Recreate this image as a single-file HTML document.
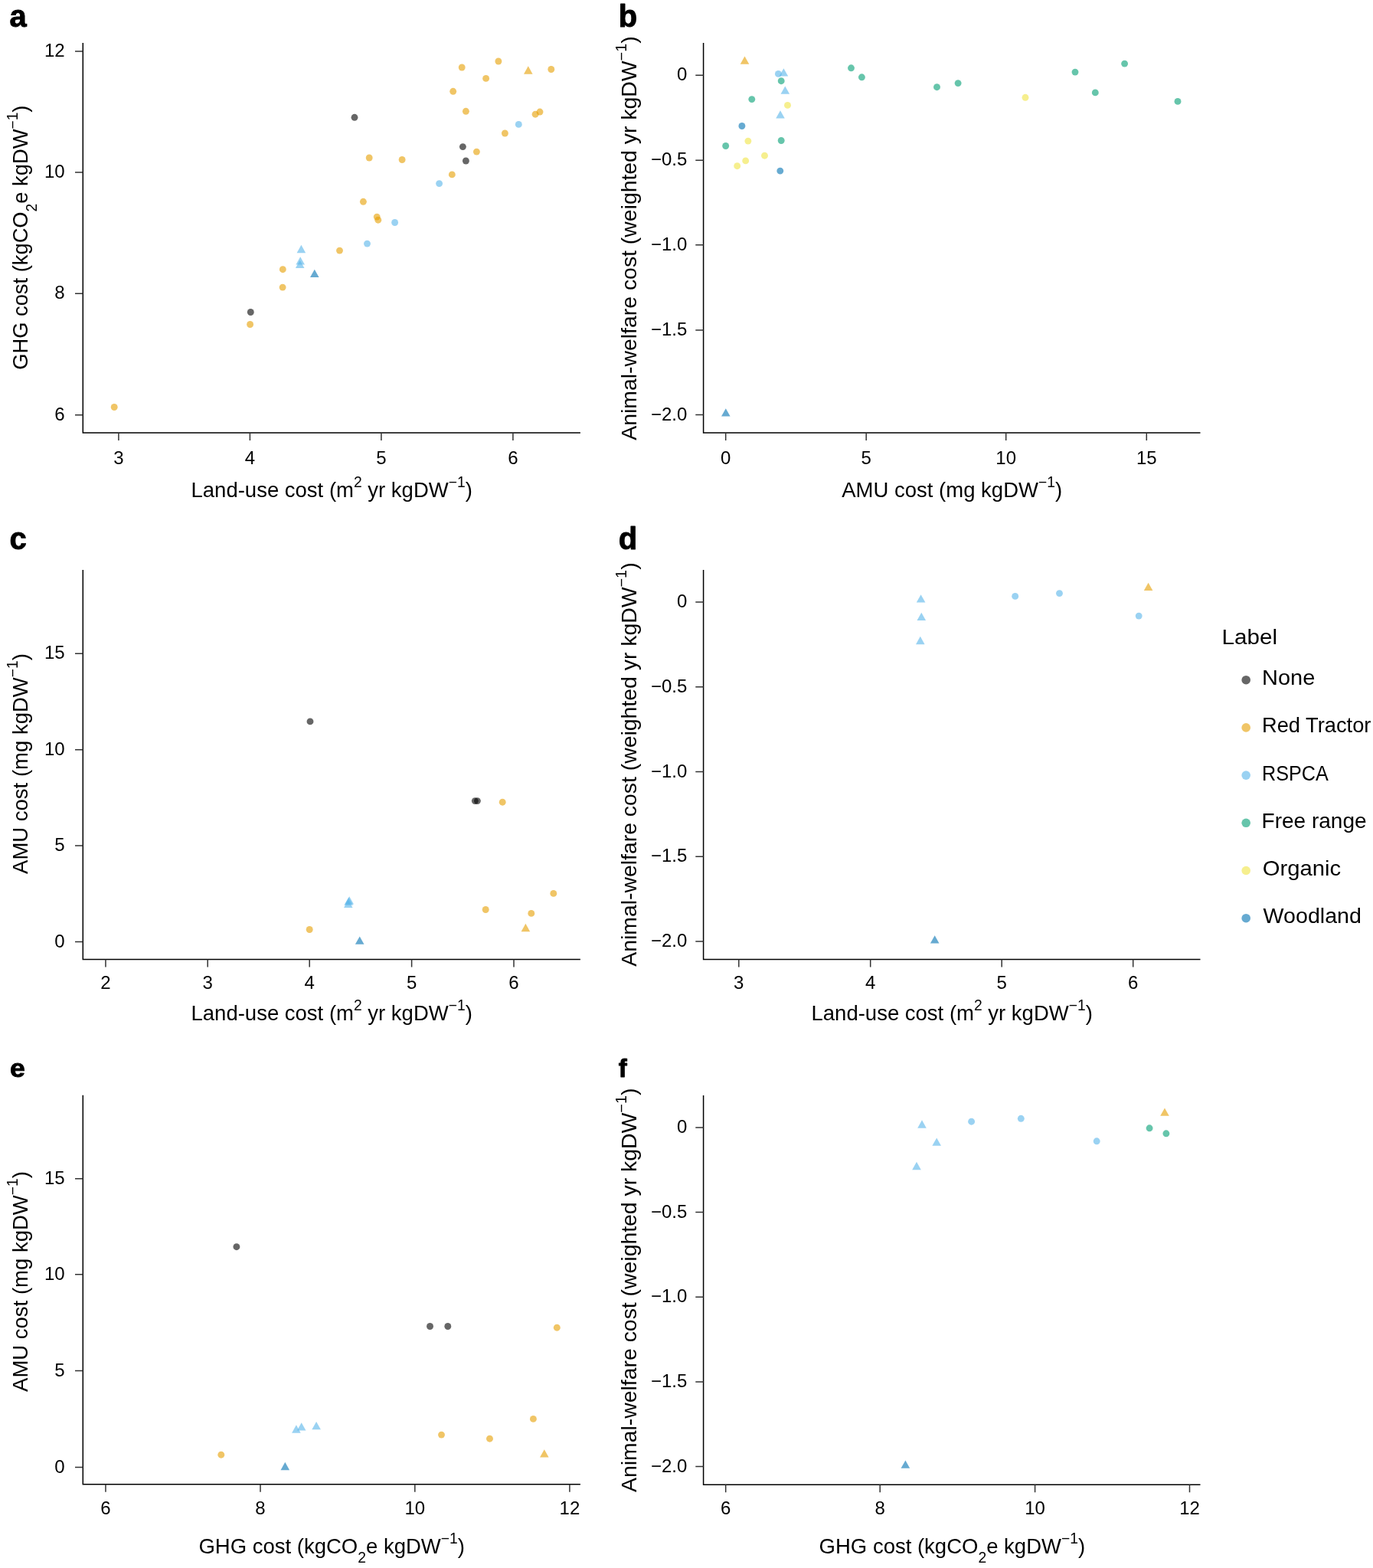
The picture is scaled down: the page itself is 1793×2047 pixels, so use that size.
<!DOCTYPE html><html><head><meta charset="utf-8"><title>Figure</title><style>html,body{margin:0;padding:0;background:#fff;}svg{display:block;}text{font-family:"Liberation Sans", Arial, Helvetica, sans-serif;fill:#000;}</style></head><body>
<svg width="1793" height="2047" viewBox="0 0 1793 2047">
<rect width="1793" height="2047" fill="#fff"/>
<path d="M108.3 56V564.9H757.9" fill="none" stroke="#000" stroke-width="1.5"/>
<path d="M154.9 564.9V574.9M326.4 564.9V574.9M497.9 564.9V574.9M669.9 564.9V574.9M98 67.1H108.3M98 225H108.3M98 383.3H108.3M98 541.7H108.3" fill="none" stroke="#333" stroke-width="1.5"/>
<text x="154.9" y="605.6" font-size="24" text-anchor="middle">3</text>
<text x="326.4" y="605.6" font-size="24" text-anchor="middle">4</text>
<text x="497.9" y="605.6" font-size="24" text-anchor="middle">5</text>
<text x="669.9" y="605.6" font-size="24" text-anchor="middle">6</text>
<text x="84.7" y="74.2" font-size="24" text-anchor="end">12</text>
<text x="84.7" y="232.1" font-size="24" text-anchor="end">10</text>
<text x="84.7" y="390.4" font-size="24" text-anchor="end">8</text>
<text x="84.7" y="548.8" font-size="24" text-anchor="end">6</text>
<path d="M918.6 56V564.9H1567.5" fill="none" stroke="#000" stroke-width="1.5"/>
<path d="M947.7 564.9V574.9M1131.2 564.9V574.9M1313.7 564.9V574.9M1497.3 564.9V574.9M908.3 98.3H918.6M908.3 209.3H918.6M908.3 319.8H918.6M908.3 430.9H918.6M908.3 541.5H918.6" fill="none" stroke="#333" stroke-width="1.5"/>
<text x="947.7" y="605.6" font-size="24" text-anchor="middle">0</text>
<text x="1131.2" y="605.6" font-size="24" text-anchor="middle">5</text>
<text x="1313.7" y="605.6" font-size="24" text-anchor="middle">10</text>
<text x="1497.3" y="605.6" font-size="24" text-anchor="middle">15</text>
<text x="897.3" y="105.4" font-size="24" text-anchor="end">0</text>
<text x="897.3" y="216.4" font-size="24" text-anchor="end">−0.5</text>
<text x="897.3" y="326.9" font-size="24" text-anchor="end">−1.0</text>
<text x="897.3" y="438" font-size="24" text-anchor="end">−1.5</text>
<text x="897.3" y="548.6" font-size="24" text-anchor="end">−2.0</text>
<path d="M108.3 744V1252.4H757.9" fill="none" stroke="#000" stroke-width="1.5"/>
<path d="M137.95 1252.4V1262.4M271.2 1252.4V1262.4M404.2 1252.4V1262.4M537.6 1252.4V1262.4M671 1252.4V1262.4M98 1229.6H108.3M98 1104H108.3M98 978.8H108.3M98 853.3H108.3" fill="none" stroke="#333" stroke-width="1.5"/>
<text x="137.95" y="1290.85" font-size="24" text-anchor="middle">2</text>
<text x="271.2" y="1290.85" font-size="24" text-anchor="middle">3</text>
<text x="404.2" y="1290.85" font-size="24" text-anchor="middle">4</text>
<text x="537.6" y="1290.85" font-size="24" text-anchor="middle">5</text>
<text x="671" y="1290.85" font-size="24" text-anchor="middle">6</text>
<text x="84.7" y="1236.7" font-size="24" text-anchor="end">0</text>
<text x="84.7" y="1111.1" font-size="24" text-anchor="end">5</text>
<text x="84.7" y="985.9" font-size="24" text-anchor="end">10</text>
<text x="84.7" y="860.4" font-size="24" text-anchor="end">15</text>
<path d="M918.6 743.9V1252.4H1567.5" fill="none" stroke="#000" stroke-width="1.5"/>
<path d="M964.8 1252.4V1262.4M1136.7 1252.4V1262.4M1308.2 1252.4V1262.4M1479.7 1252.4V1262.4M908.3 785.9H918.6M908.3 896.7H918.6M908.3 1007.5H918.6M908.3 1118.3H918.6M908.3 1229.1H918.6" fill="none" stroke="#333" stroke-width="1.5"/>
<text x="964.8" y="1290.85" font-size="24" text-anchor="middle">3</text>
<text x="1136.7" y="1290.85" font-size="24" text-anchor="middle">4</text>
<text x="1308.2" y="1290.85" font-size="24" text-anchor="middle">5</text>
<text x="1479.7" y="1290.85" font-size="24" text-anchor="middle">6</text>
<text x="897.3" y="793" font-size="24" text-anchor="end">0</text>
<text x="897.3" y="903.8" font-size="24" text-anchor="end">−0.5</text>
<text x="897.3" y="1014.6" font-size="24" text-anchor="end">−1.0</text>
<text x="897.3" y="1125.4" font-size="24" text-anchor="end">−1.5</text>
<text x="897.3" y="1236.2" font-size="24" text-anchor="end">−2.0</text>
<path d="M108.3 1429.8V1937.8H757.9" fill="none" stroke="#000" stroke-width="1.5"/>
<path d="M137.95 1937.8V1947.8M340 1937.8V1947.8M541.8 1937.8V1947.8M743.9 1937.8V1947.8M98 1915.4H108.3M98 1789.6H108.3M98 1663.8H108.3M98 1538.8H108.3" fill="none" stroke="#333" stroke-width="1.5"/>
<text x="137.95" y="1976.7" font-size="24" text-anchor="middle">6</text>
<text x="340" y="1976.7" font-size="24" text-anchor="middle">8</text>
<text x="541.8" y="1976.7" font-size="24" text-anchor="middle">10</text>
<text x="743.9" y="1976.7" font-size="24" text-anchor="middle">12</text>
<text x="84.7" y="1922.5" font-size="24" text-anchor="end">0</text>
<text x="84.7" y="1796.7" font-size="24" text-anchor="end">5</text>
<text x="84.7" y="1670.9" font-size="24" text-anchor="end">10</text>
<text x="84.7" y="1545.9" font-size="24" text-anchor="end">15</text>
<path d="M918.6 1430V1938.2H1567.5" fill="none" stroke="#000" stroke-width="1.5"/>
<path d="M947.7 1938.2V1948.2M1149.2 1938.2V1948.2M1351.6 1938.2V1948.2M1553.5 1938.2V1948.2M908.3 1471.9H918.6M908.3 1582.5H918.6M908.3 1693.2H918.6M908.3 1803.9H918.6M908.3 1914.6H918.6" fill="none" stroke="#333" stroke-width="1.5"/>
<text x="947.7" y="1976.8" font-size="24" text-anchor="middle">6</text>
<text x="1149.2" y="1976.8" font-size="24" text-anchor="middle">8</text>
<text x="1351.6" y="1976.8" font-size="24" text-anchor="middle">10</text>
<text x="1553.5" y="1976.8" font-size="24" text-anchor="middle">12</text>
<text x="897.3" y="1479" font-size="24" text-anchor="end">0</text>
<text x="897.3" y="1589.6" font-size="24" text-anchor="end">−0.5</text>
<text x="897.3" y="1700.3" font-size="24" text-anchor="end">−1.0</text>
<text x="897.3" y="1811" font-size="24" text-anchor="end">−1.5</text>
<text x="897.3" y="1921.7" font-size="24" text-anchor="end">−2.0</text>
<circle cx="463" cy="153.3" r="4.45" fill="#000000" fill-opacity="0.6"/>
<circle cx="604.4" cy="191.6" r="4.45" fill="#000000" fill-opacity="0.6"/>
<circle cx="608.4" cy="210" r="4.45" fill="#000000" fill-opacity="0.6"/>
<circle cx="327.3" cy="407.5" r="4.45" fill="#000000" fill-opacity="0.6"/>
<circle cx="603.2" cy="88" r="4.45" fill="#E69F00" fill-opacity="0.6"/>
<circle cx="650.9" cy="80" r="4.45" fill="#E69F00" fill-opacity="0.6"/>
<circle cx="719.8" cy="90.5" r="4.45" fill="#E69F00" fill-opacity="0.6"/>
<circle cx="634.6" cy="102.4" r="4.45" fill="#E69F00" fill-opacity="0.6"/>
<circle cx="591.7" cy="119.3" r="4.45" fill="#E69F00" fill-opacity="0.6"/>
<circle cx="608.4" cy="145.3" r="4.45" fill="#E69F00" fill-opacity="0.6"/>
<circle cx="699.1" cy="149.2" r="4.45" fill="#E69F00" fill-opacity="0.6"/>
<circle cx="705" cy="146.05" r="4.45" fill="#E69F00" fill-opacity="0.6"/>
<circle cx="659.4" cy="174" r="4.45" fill="#E69F00" fill-opacity="0.6"/>
<circle cx="622.4" cy="198.1" r="4.45" fill="#E69F00" fill-opacity="0.6"/>
<circle cx="482.2" cy="206" r="4.45" fill="#E69F00" fill-opacity="0.6"/>
<circle cx="525.1" cy="208.5" r="4.45" fill="#E69F00" fill-opacity="0.6"/>
<circle cx="590.3" cy="227.9" r="4.45" fill="#E69F00" fill-opacity="0.6"/>
<circle cx="474.4" cy="263.3" r="4.45" fill="#E69F00" fill-opacity="0.6"/>
<circle cx="492.2" cy="283.1" r="4.45" fill="#E69F00" fill-opacity="0.6"/>
<circle cx="493.8" cy="287.2" r="4.45" fill="#E69F00" fill-opacity="0.6"/>
<circle cx="443.5" cy="327.1" r="4.45" fill="#E69F00" fill-opacity="0.6"/>
<circle cx="369.3" cy="351.7" r="4.45" fill="#E69F00" fill-opacity="0.6"/>
<circle cx="369.1" cy="375.1" r="4.45" fill="#E69F00" fill-opacity="0.6"/>
<circle cx="326.6" cy="423.5" r="4.45" fill="#E69F00" fill-opacity="0.6"/>
<circle cx="149.2" cy="531.5" r="4.45" fill="#E69F00" fill-opacity="0.6"/>
<path d="M689.8 86.35L695.6 96.65L684 96.65Z" fill="#E69F00" fill-opacity="0.6"/>
<circle cx="677.3" cy="162.4" r="4.45" fill="#56B4E9" fill-opacity="0.6"/>
<circle cx="573.6" cy="239.6" r="4.45" fill="#56B4E9" fill-opacity="0.6"/>
<circle cx="515.6" cy="290.5" r="4.45" fill="#56B4E9" fill-opacity="0.6"/>
<circle cx="479.5" cy="318.1" r="4.45" fill="#56B4E9" fill-opacity="0.6"/>
<path d="M393.4 319.85L399.2 330.15L387.6 330.15Z" fill="#56B4E9" fill-opacity="0.6"/>
<path d="M392.2 335.15L398 345.45L386.4 345.45Z" fill="#56B4E9" fill-opacity="0.6"/>
<path d="M391.7 339.75L397.5 350.05L385.9 350.05Z" fill="#56B4E9" fill-opacity="0.6"/>
<path d="M410.8 351.75L416.6 362.05L405 362.05Z" fill="#0072B2" fill-opacity="0.6"/>
<path d="M972.5 73.55L978.3 83.85L966.7 83.85Z" fill="#E69F00" fill-opacity="0.6"/>
<circle cx="1016.4" cy="96.4" r="4.45" fill="#56B4E9" fill-opacity="0.6"/>
<path d="M1023.4 89.15L1029.2 99.45L1017.6 99.45Z" fill="#56B4E9" fill-opacity="0.6"/>
<path d="M1025.3 112.45L1031.1 122.75L1019.5 122.75Z" fill="#56B4E9" fill-opacity="0.6"/>
<path d="M1019 144.15L1024.8 154.45L1013.2 154.45Z" fill="#56B4E9" fill-opacity="0.6"/>
<circle cx="1020.2" cy="105.7" r="4.45" fill="#009E73" fill-opacity="0.6"/>
<circle cx="981.8" cy="129.6" r="4.45" fill="#009E73" fill-opacity="0.6"/>
<circle cx="1020.2" cy="183.5" r="4.45" fill="#009E73" fill-opacity="0.6"/>
<circle cx="947.7" cy="190.5" r="4.45" fill="#009E73" fill-opacity="0.6"/>
<circle cx="1111.5" cy="88.8" r="4.45" fill="#009E73" fill-opacity="0.6"/>
<circle cx="1125.4" cy="100.8" r="4.45" fill="#009E73" fill-opacity="0.6"/>
<circle cx="1223.5" cy="113.7" r="4.45" fill="#009E73" fill-opacity="0.6"/>
<circle cx="1251.1" cy="108.6" r="4.45" fill="#009E73" fill-opacity="0.6"/>
<circle cx="1404" cy="94.1" r="4.45" fill="#009E73" fill-opacity="0.6"/>
<circle cx="1430.3" cy="120.9" r="4.45" fill="#009E73" fill-opacity="0.6"/>
<circle cx="1468.6" cy="83.1" r="4.45" fill="#009E73" fill-opacity="0.6"/>
<circle cx="1538" cy="132.4" r="4.45" fill="#009E73" fill-opacity="0.6"/>
<circle cx="1028.5" cy="137.4" r="4.45" fill="#F0E442" fill-opacity="0.6"/>
<circle cx="976.9" cy="184.1" r="4.45" fill="#F0E442" fill-opacity="0.6"/>
<circle cx="998.5" cy="203.2" r="4.45" fill="#F0E442" fill-opacity="0.6"/>
<circle cx="973.7" cy="209.9" r="4.45" fill="#F0E442" fill-opacity="0.6"/>
<circle cx="962.7" cy="216.7" r="4.45" fill="#F0E442" fill-opacity="0.6"/>
<circle cx="1339" cy="127.3" r="4.45" fill="#F0E442" fill-opacity="0.6"/>
<circle cx="968.9" cy="164.5" r="4.45" fill="#0072B2" fill-opacity="0.6"/>
<circle cx="1018.8" cy="223.1" r="4.45" fill="#0072B2" fill-opacity="0.6"/>
<path d="M947.8 533.25L953.6 543.55L942 543.55Z" fill="#0072B2" fill-opacity="0.6"/>
<circle cx="405" cy="941.9" r="4.45" fill="#000000" fill-opacity="0.6"/>
<circle cx="620.3" cy="1045.6" r="4.45" fill="#000000" fill-opacity="0.6"/>
<circle cx="623.4" cy="1045.6" r="4.45" fill="#000000" fill-opacity="0.6"/>
<circle cx="656.2" cy="1047.2" r="4.45" fill="#E69F00" fill-opacity="0.6"/>
<circle cx="634.2" cy="1187.5" r="4.45" fill="#E69F00" fill-opacity="0.6"/>
<circle cx="693.8" cy="1192.4" r="4.45" fill="#E69F00" fill-opacity="0.6"/>
<circle cx="722.8" cy="1166.4" r="4.45" fill="#E69F00" fill-opacity="0.6"/>
<circle cx="404.2" cy="1213.5" r="4.45" fill="#E69F00" fill-opacity="0.6"/>
<path d="M686.4 1205.85L692.2 1216.15L680.6 1216.15Z" fill="#E69F00" fill-opacity="0.6"/>
<path d="M456.2 1170.25L462 1180.55L450.4 1180.55Z" fill="#56B4E9" fill-opacity="0.6"/>
<path d="M455.2 1171.55L461 1181.85L449.4 1181.85Z" fill="#56B4E9" fill-opacity="0.6"/>
<path d="M454.8 1174.75L460.6 1185.05L449 1185.05Z" fill="#56B4E9" fill-opacity="0.6"/>
<path d="M469.7 1222.55L475.5 1232.85L463.9 1232.85Z" fill="#0072B2" fill-opacity="0.6"/>
<path d="M1202.6 776.25L1208.4 786.55L1196.8 786.55Z" fill="#56B4E9" fill-opacity="0.6"/>
<path d="M1203.3 799.65L1209.1 809.95L1197.5 809.95Z" fill="#56B4E9" fill-opacity="0.6"/>
<path d="M1201.8 830.85L1207.6 841.15L1196 841.15Z" fill="#56B4E9" fill-opacity="0.6"/>
<circle cx="1325.7" cy="778.4" r="4.45" fill="#56B4E9" fill-opacity="0.6"/>
<circle cx="1383.5" cy="774.6" r="4.45" fill="#56B4E9" fill-opacity="0.6"/>
<circle cx="1487.2" cy="804.1" r="4.45" fill="#56B4E9" fill-opacity="0.6"/>
<path d="M1499.6 760.75L1505.4 771.05L1493.8 771.05Z" fill="#E69F00" fill-opacity="0.6"/>
<path d="M1220.7 1221.25L1226.5 1231.55L1214.9 1231.55Z" fill="#0072B2" fill-opacity="0.6"/>
<circle cx="308.9" cy="1627.7" r="4.45" fill="#000000" fill-opacity="0.6"/>
<circle cx="561.5" cy="1731.5" r="4.45" fill="#000000" fill-opacity="0.6"/>
<circle cx="584.8" cy="1731.5" r="4.45" fill="#000000" fill-opacity="0.6"/>
<circle cx="727.3" cy="1733.2" r="4.45" fill="#E69F00" fill-opacity="0.6"/>
<circle cx="696.4" cy="1852.4" r="4.45" fill="#E69F00" fill-opacity="0.6"/>
<circle cx="576.5" cy="1873.1" r="4.45" fill="#E69F00" fill-opacity="0.6"/>
<circle cx="639.5" cy="1878.2" r="4.45" fill="#E69F00" fill-opacity="0.6"/>
<circle cx="288.8" cy="1899.2" r="4.45" fill="#E69F00" fill-opacity="0.6"/>
<path d="M710.8 1892.15L716.6 1902.45L705 1902.45Z" fill="#E69F00" fill-opacity="0.6"/>
<path d="M386.9 1860.35L392.7 1870.65L381.1 1870.65Z" fill="#56B4E9" fill-opacity="0.6"/>
<path d="M393.7 1857.25L399.5 1867.55L387.9 1867.55Z" fill="#56B4E9" fill-opacity="0.6"/>
<path d="M413.1 1855.95L418.9 1866.25L407.3 1866.25Z" fill="#56B4E9" fill-opacity="0.6"/>
<path d="M372.3 1908.85L378.1 1919.15L366.5 1919.15Z" fill="#0072B2" fill-opacity="0.6"/>
<path d="M1204 1462.35L1209.8 1472.65L1198.2 1472.65Z" fill="#56B4E9" fill-opacity="0.6"/>
<path d="M1223.2 1485.45L1229 1495.75L1217.4 1495.75Z" fill="#56B4E9" fill-opacity="0.6"/>
<path d="M1197 1516.85L1202.8 1527.15L1191.2 1527.15Z" fill="#56B4E9" fill-opacity="0.6"/>
<circle cx="1268.6" cy="1464.2" r="4.45" fill="#56B4E9" fill-opacity="0.6"/>
<circle cx="1333.3" cy="1460.3" r="4.45" fill="#56B4E9" fill-opacity="0.6"/>
<circle cx="1432.2" cy="1489.8" r="4.45" fill="#56B4E9" fill-opacity="0.6"/>
<circle cx="1501.1" cy="1472.8" r="4.45" fill="#009E73" fill-opacity="0.6"/>
<circle cx="1522.9" cy="1479.8" r="4.45" fill="#009E73" fill-opacity="0.6"/>
<path d="M1521 1446.55L1526.8 1456.85L1515.2 1456.85Z" fill="#E69F00" fill-opacity="0.6"/>
<path d="M1182.4 1906.45L1188.2 1916.75L1176.6 1916.75Z" fill="#0072B2" fill-opacity="0.6"/>
<text transform="translate(12.6 34.6) scale(1 1)" font-size="40" font-weight="bold" stroke="#000" stroke-width="0.9" stroke-linejoin="round">a</text>
<text transform="translate(807.8 34.5) scale(1 1)" font-size="40" font-weight="bold" stroke="#000" stroke-width="0.9" stroke-linejoin="round">b</text>
<text transform="translate(12.6 716.6) scale(1 1)" font-size="40" font-weight="bold" stroke="#000" stroke-width="0.9" stroke-linejoin="round">c</text>
<text transform="translate(807.8 716.7) scale(1 1)" font-size="40" font-weight="bold" stroke="#000" stroke-width="0.9" stroke-linejoin="round">d</text>
<text transform="translate(12.9 1406.3) scale(1.08 1)" font-size="33" font-weight="bold" stroke="#000" stroke-width="0.9" stroke-linejoin="round">e</text>
<text transform="translate(807.8 1406.0) scale(1 1)" font-size="33" font-weight="bold" stroke="#000" stroke-width="0.9" stroke-linejoin="round">f</text>
<text transform="translate(433.2 648.9) scale(1.0 1)" font-size="27.5" text-anchor="middle">Land-use cost (m<tspan dy="-13.2" font-size="19.3">2</tspan><tspan dy="13.2"> yr kgDW</tspan><tspan dy="-13.2" font-size="19.3">−1</tspan><tspan dy="13.2">)</tspan></text>
<text transform="translate(1243.2 648.7) scale(1.0 1)" font-size="27.5" text-anchor="middle">AMU cost (mg kgDW<tspan dy="-13.2" font-size="19.3">−1</tspan><tspan dy="13.2">)</tspan></text>
<text transform="translate(433.2 1331.8) scale(1.0 1)" font-size="27.5" text-anchor="middle">Land-use cost (m<tspan dy="-13.2" font-size="19.3">2</tspan><tspan dy="13.2"> yr kgDW</tspan><tspan dy="-13.2" font-size="19.3">−1</tspan><tspan dy="13.2">)</tspan></text>
<text transform="translate(1243.2 1331.8) scale(1.0 1)" font-size="27.5" text-anchor="middle">Land-use cost (m<tspan dy="-13.2" font-size="19.3">2</tspan><tspan dy="13.2"> yr kgDW</tspan><tspan dy="-13.2" font-size="19.3">−1</tspan><tspan dy="13.2">)</tspan></text>
<text transform="translate(433.2 2027.8) scale(1.0 1)" font-size="27.5" text-anchor="middle">GHG cost (kgCO<tspan dy="11.8" font-size="19.3">2</tspan><tspan dy="-11.8">e kgDW</tspan><tspan dy="-13.2" font-size="19.3">−1</tspan><tspan dy="13.2">)</tspan></text>
<text transform="translate(1243.35 2027.8) scale(1.0 1)" font-size="27.5" text-anchor="middle">GHG cost (kgCO<tspan dy="11.8" font-size="19.3">2</tspan><tspan dy="-11.8">e kgDW</tspan><tspan dy="-13.2" font-size="19.3">−1</tspan><tspan dy="13.2">)</tspan></text>
<text transform="translate(36 310.2) rotate(-90) scale(0.994 1)" font-size="27.5" text-anchor="middle">GHG cost (kgCO<tspan dy="11.8" font-size="19.3">2</tspan><tspan dy="-11.8">e kgDW</tspan><tspan dy="-13.2" font-size="19.3">−1</tspan><tspan dy="13.2">)</tspan></text>
<text transform="translate(831 310.95) rotate(-90) scale(1.0325 1)" font-size="27.5" text-anchor="middle">Animal-welfare cost (weighted yr kgDW<tspan dy="-13.2" font-size="19.3">−1</tspan><tspan dy="13.2">)</tspan></text>
<text transform="translate(36 997) rotate(-90) scale(1.0 1)" font-size="27.5" text-anchor="middle">AMU cost (mg kgDW<tspan dy="-13.2" font-size="19.3">−1</tspan><tspan dy="13.2">)</tspan></text>
<text transform="translate(831 998.05) rotate(-90) scale(1.0325 1)" font-size="27.5" text-anchor="middle">Animal-welfare cost (weighted yr kgDW<tspan dy="-13.2" font-size="19.3">−1</tspan><tspan dy="13.2">)</tspan></text>
<text transform="translate(36 1673) rotate(-90) scale(1.0 1)" font-size="27.5" text-anchor="middle">AMU cost (mg kgDW<tspan dy="-13.2" font-size="19.3">−1</tspan><tspan dy="13.2">)</tspan></text>
<text transform="translate(831 1684.2) rotate(-90) scale(1.0325 1)" font-size="27.5" text-anchor="middle">Animal-welfare cost (weighted yr kgDW<tspan dy="-13.2" font-size="19.3">−1</tspan><tspan dy="13.2">)</tspan></text>
<text transform="translate(1595.6 841.2) scale(1.097 1)" font-size="27">Label</text>
<circle cx="1627.2" cy="887.7" r="5.8" fill="#000000" fill-opacity="0.6"/>
<text transform="translate(1648 894.1) scale(1.073 1)" font-size="27">None</text>
<circle cx="1627.2" cy="949.9" r="5.8" fill="#E69F00" fill-opacity="0.6"/>
<text transform="translate(1648 956.3) scale(1.01 1)" font-size="27">Red Tractor</text>
<circle cx="1627.2" cy="1012.1" r="5.8" fill="#56B4E9" fill-opacity="0.6"/>
<text transform="translate(1648 1018.5) scale(0.933 1)" font-size="27">RSPCA</text>
<circle cx="1627.2" cy="1074.3" r="5.8" fill="#009E73" fill-opacity="0.6"/>
<text transform="translate(1647.6 1080.7) scale(1.038 1)" font-size="27">Free range</text>
<circle cx="1627.2" cy="1136.5" r="5.8" fill="#F0E442" fill-opacity="0.6"/>
<text transform="translate(1648.7 1142.9) scale(1.083 1)" font-size="27">Organic</text>
<circle cx="1627.2" cy="1198.7" r="5.8" fill="#0072B2" fill-opacity="0.6"/>
<text transform="translate(1649.6 1205.1) scale(1.06 1)" font-size="27">Woodland</text>
</svg></body></html>
